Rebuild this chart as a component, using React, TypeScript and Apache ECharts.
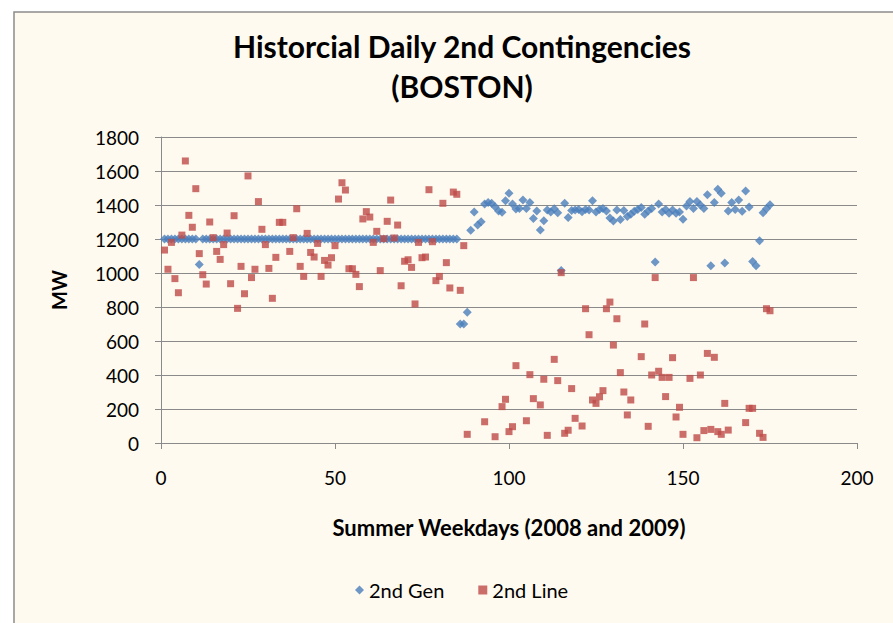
import React, { useEffect, useRef } from "react";
import * as echarts from "echarts";

// 2nd Gen contingency (MW), one value per summer weekday, days 1..175
const genValues: number[] = [
  // 1-10
  1200, 1200, 1200, 1200, 1200, 1200, 1200, 1200, 1200, 1200,
  // 11-20
  1050, 1200, 1200, 1200, 1200, 1200, 1200, 1200, 1200, 1200,
  // 21-30
  1200, 1200, 1200, 1200, 1200, 1200, 1200, 1200, 1200, 1200,
  // 31-40
  1200, 1200, 1200, 1200, 1200, 1200, 1200, 1200, 1200, 1200,
  // 41-50
  1200, 1200, 1200, 1200, 1200, 1200, 1200, 1200, 1200, 1200,
  // 51-60
  1200, 1200, 1200, 1200, 1200, 1200, 1200, 1200, 1200, 1200,
  // 61-70
  1200, 1200, 1200, 1200, 1200, 1200, 1200, 1200, 1200, 1200,
  // 71-80
  1200, 1200, 1200, 1200, 1200, 1200, 1200, 1200, 1200, 1200,
  // 81-90
  1200, 1200, 1200, 1200, 1200, 700, 700, 769, 1251, 1359,
  // 91-100
  1282, 1302, 1406, 1414, 1410, 1390, 1365, 1357, 1425, 1469,
  // 101-110
  1406, 1376, 1380, 1429, 1380, 1414, 1320, 1365, 1253, 1308,
  // 111-120
  1371, 1359, 1378, 1355, 1014, 1410, 1327, 1367, 1371, 1374,
  // 121-130
  1361, 1374, 1371, 1425, 1359, 1374, 1380, 1365, 1324, 1306,
  // 131-140
  1371, 1314, 1367, 1333, 1345, 1363, 1374, 1386, 1345, 1365,
  // 141-150
  1380, 1065, 1406, 1359, 1374, 1351, 1371, 1351, 1359, 1316,
  // 151-160
  1394, 1420, 1380, 1420, 1400, 1380, 1461, 1043, 1414, 1492,
  // 161-170
  1469, 1059, 1365, 1414, 1374, 1429, 1363, 1482, 1388, 1067,
  // 171-175
  1043, 1190, 1355, 1378, 1402,
];

// 2nd Line contingency (MW): weekday numbers and values
const lineDays: number[] = [
  1, 2, 3, 4, 5, 6, 7, 8, 9, 10,
  11, 12, 13, 14, 15, 16, 17, 18, 19, 20,
  21, 22, 23, 24, 25, 26, 27, 28, 29, 30,
  31, 32, 33, 34, 35, 37, 38, 39, 40,
  41, 42, 43, 44, 45, 46, 47, 48, 49, 50,
  51, 52, 53, 54, 55, 56, 57, 58, 59, 60,
  61, 62, 63, 64, 65, 66, 67, 68, 69, 70,
  71, 72, 73, 74, 75, 76, 77, 78, 79, 80,
  81, 82, 83, 84, 85, 86, 87, 88,
  93, 96, 98, 99, 100, 101, 102, 105, 106, 107, 109, 110,
  111, 113, 114, 115, 116, 117, 118, 119, 121, 122, 123, 124, 125, 126, 127, 128, 129, 130,
  131, 132, 133, 134, 135, 138, 139, 140, 141, 142, 143, 144, 145, 146, 147, 148, 149, 150,
  152, 153, 154, 155, 156, 157, 158, 159, 160, 161, 162, 163,
  168, 169, 170, 172, 173, 174, 175,
];
const lineValues: number[] = [
  1135, 1022, 1180, 967, 884, 1223, 1659, 1339, 1269, 1496,
  1114, 990, 935, 1300, 1208, 1127, 1080, 1167, 1235, 937,
  1337, 792, 1039, 878, 1571, 973, 1022, 1420, 1257, 1167,
  1027, 851, 1092, 1298, 1298, 1127, 1208, 1378, 1039,
  980, 1233, 1121, 1094, 1174, 980, 1074, 1047, 1090, 1161,
  1435, 1531, 1488, 1025, 1025, 992, 920, 1318, 1361, 1329,
  1180, 1245, 1014, 1202, 1304, 1429, 1206, 1282, 925, 1069,
  1078, 1033, 818, 1180, 1090, 1094, 1490, 1184, 955, 980,
  1410, 1061, 912, 1476, 1463, 898, 1161, 51,
  125, 37, 214, 257, 67, 96, 455, 131, 402, 261, 224, 375,
  45, 492, 367, 1002, 57, 75, 320, 145, 100, 790, 637, 253, 233, 272, 308, 790, 829, 576,
  731, 414, 300, 165, 253, 508, 700, 98, 400, 973, 422, 386, 273, 386, 502, 153, 210, 51,
  380, 973, 31, 400, 73, 527, 80, 504, 67, 51, 233, 76,
  120, 204, 204, 57, 33, 790, 778,
];

const titleText = "Historcial Daily 2nd Contingencies\n(BOSTON)";
const xAxisTitle = "Summer Weekdays (2008 and 2009)";
const yAxisTitle = "MW";
const seriesNames = ["2nd Gen", "2nd Line"];

const FONT = "Lato, 'DejaVu Sans', sans-serif";
const GRID_COLOR = "#8a8a8a";

export default function App() {
  const ref = useRef<HTMLDivElement>(null);
  useEffect(() => {
    if (!ref.current) return;
    const chart = echarts.init(ref.current, undefined, { renderer: "svg" });
    chart.setOption({
      animation: false,
      backgroundColor: "#ffffff",
      graphic: [
        {
          type: "rect",
          z: -100,
          silent: true,
          shape: { x: 14, y: 12, width: 900, height: 640 },
          style: { fill: "#FFFAEF", stroke: "#8C8C8C", lineWidth: 1.5 },
        },
      ],
      title: {
        text: titleText,
        left: 457,
        top: 21,
        textAlign: "center",
        textStyle: {
          fontFamily: FONT,
          fontWeight: "bold",
          fontSize: 30,
          lineHeight: 40,
          color: "#000000",
        },
      },
      legend: {
        left: 350,
        top: 575,
        itemGap: 34,
        itemWidth: 9,
        itemHeight: 9,
        textStyle: { fontFamily: FONT, fontSize: 20, color: "#000000" },
        data: [
          { name: seriesNames[0], icon: "diamond" },
          { name: seriesNames[1], icon: "rect" },
        ],
      },
      grid: { left: 161, right: 36, top: 137, bottom: 180 },
      xAxis: {
        type: "value",
        min: 0,
        max: 200,
        interval: 50,
        name: xAxisTitle,
        nameLocation: "middle",
        nameGap: 73,
        nameTextStyle: { fontFamily: FONT, fontWeight: "bold", fontSize: 22, color: "#000000" },
        axisLine: { show: true, onZero: false, lineStyle: { color: GRID_COLOR, width: 1 } },
        axisTick: { show: true, length: 6, lineStyle: { color: GRID_COLOR } },
        splitLine: { show: false },
        axisLabel: { fontFamily: FONT, fontSize: 19, color: "#000000", margin: 25 },
      },
      yAxis: {
        type: "value",
        min: 0,
        max: 1800,
        interval: 200,
        name: yAxisTitle,
        nameLocation: "middle",
        nameGap: 92,
        nameRotate: 90,
        nameTextStyle: { fontFamily: FONT, fontWeight: "bold", fontSize: 20, color: "#000000" },
        axisLine: { show: true, lineStyle: { color: GRID_COLOR, width: 1 } },
        axisTick: { show: true, length: 6, lineStyle: { color: GRID_COLOR } },
        splitLine: { show: true, lineStyle: { color: GRID_COLOR, width: 1 } },
        axisLabel: {
          fontFamily: FONT,
          fontSize: 19,
          color: "#000000",
          margin: 22,
          formatter: (v: number) => String(v),
        },
      },
      series: [
        {
          name: seriesNames[0],
          type: "scatter",
          symbol: "diamond",
          symbolSize: 9,
          itemStyle: { color: "#4A7EBB" },
          data: genValues.map((v, i) => [i + 1, v]),
        },
        {
          name: seriesNames[1],
          type: "scatter",
          symbol: "rect",
          symbolSize: 7,
          itemStyle: { color: "#BE4B48" },
          data: lineDays.map((d, i) => [d, lineValues[i]]),
        },
      ],
    });
    return () => chart.dispose();
  }, []);
  return (
    <div
      style={{ position: "fixed", left: 0, top: 0, width: 893, height: 623, background: "#ffffff" }}
    >
      <div ref={ref} style={{ width: 893, height: 623 }} />
    </div>
  );
}
